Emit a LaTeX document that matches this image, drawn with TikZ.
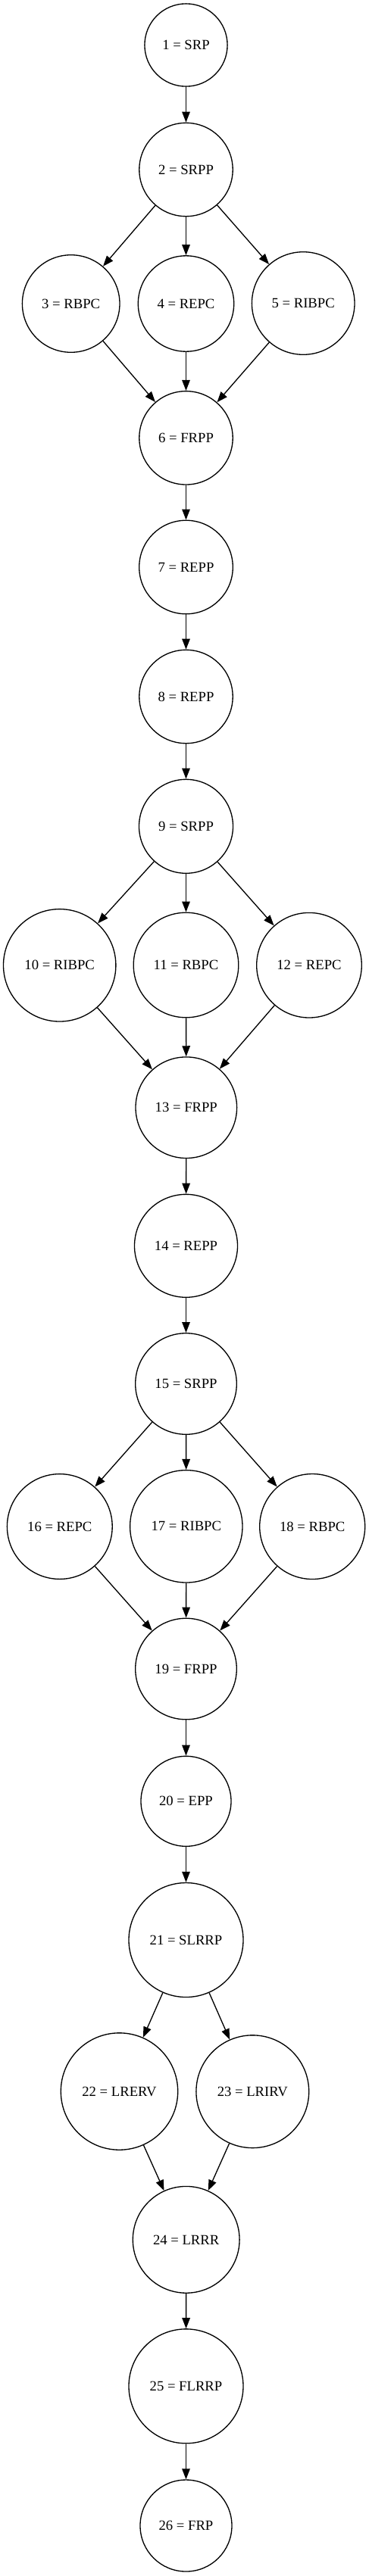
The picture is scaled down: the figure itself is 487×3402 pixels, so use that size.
\documentclass[tikz,border=0pt]{standalone}
\usepackage{fontspec}
\setmainfont{Liberation Serif}
\usetikzlibrary{arrows.meta}
\begin{document}
\begin{tikzpicture}[x=1pt,y=-1pt,
  st/.style={circle, draw, line width=1.33pt, inner sep=0pt,
    font=\fontsize{18.67pt}{22pt}\selectfont},
  edge/.style={line width=1.33pt, -{Triangle[length=14pt,width=10.5pt]}}]
\useasboundingbox (0,0) rectangle (487,3402);
\node[st, minimum size=109.2pt] (n1) at (245.5,59.5) {1 = SRP};
\node[st, minimum size=123.4pt] (n2) at (245.5,224) {2 = SRPP};
\node[st, minimum size=128.6pt] (n3) at (93.7,401) {3 = RBPC};
\node[st, minimum size=126.4pt] (n4) at (245.5,401) {4 = REPC};
\node[st, minimum size=135.6pt] (n5) at (400.2,400.5) {5 = RIBPC};
\node[st, minimum size=123.4pt] (n6) at (245.5,578.3) {6 = FRPP};
\node[st, minimum size=123.6pt] (n7) at (245.5,749) {7 = REPP};
\node[st, minimum size=123.4pt] (n8) at (245.5,920) {8 = REPP};
\node[st, minimum size=124pt] (n9) at (245.5,1091.3) {9 = SRPP};
\node[st, minimum size=148.4pt] (n10) at (78.7,1274.8) {10 = RIBPC};
\node[st, minimum size=138.6pt] (n11) at (245.5,1274.5) {11 = RBPC};
\node[st, minimum size=138.6pt] (n12) at (408,1274.7) {12 = REPC};
\node[st, minimum size=133.6pt] (n13) at (245.8,1462.7) {13 = FRPP};
\node[st, minimum size=136pt] (n14) at (245.5,1645.3) {14 = REPP};
\node[st, minimum size=133.6pt] (n15) at (245.5,1827.5) {15 = SRPP};
\node[st, minimum size=138.8pt] (n16) at (78.8,2016) {16 = REPC};
\node[st, minimum size=148.4pt] (n17) at (245.8,2015.8) {17 = RIBPC};
\node[st, minimum size=139pt] (n18) at (412.2,2016) {18 = RBPC};
\node[st, minimum size=133.6pt] (n19) at (245.5,2204) {19 = FRPP};
\node[st, minimum size=119pt] (n20) at (245.5,2378.8) {20 = EPP};
\node[st, minimum size=151pt] (n21) at (245.5,2562) {21 = SLRRP};
\node[st, minimum size=154.4pt] (n22) at (157.5,2762) {22 = LRERV};
\node[st, minimum size=148.8pt] (n23) at (333.3,2762.2) {23 = LRIRV};
\node[st, minimum size=140.8pt] (n24) at (245.7,2957.8) {24 = LRRR};
\node[st, minimum size=151pt] (n25) at (245.5,3151.3) {25 = FLRRP};
\node[st, minimum size=121pt] (n26) at (245.5,3335.5) {26 = FRP};
\draw[edge] (n1) -- (n2);
\draw[edge] (n2) -- (n3);
\draw[edge] (n2) -- (n4);
\draw[edge] (n2) -- (n5);
\draw[edge] (n3) -- (n6);
\draw[edge] (n4) -- (n6);
\draw[edge] (n5) -- (n6);
\draw[edge] (n6) -- (n7);
\draw[edge] (n7) -- (n8);
\draw[edge] (n8) -- (n9);
\draw[edge] (n9) -- (n10);
\draw[edge] (n9) -- (n11);
\draw[edge] (n9) -- (n12);
\draw[edge] (n10) -- (n13);
\draw[edge] (n11) -- (n13);
\draw[edge] (n12) -- (n13);
\draw[edge] (n13) -- (n14);
\draw[edge] (n14) -- (n15);
\draw[edge] (n15) -- (n16);
\draw[edge] (n15) -- (n17);
\draw[edge] (n15) -- (n18);
\draw[edge] (n16) -- (n19);
\draw[edge] (n17) -- (n19);
\draw[edge] (n18) -- (n19);
\draw[edge] (n19) -- (n20);
\draw[edge] (n20) -- (n21);
\draw[edge] (n21) -- (n22);
\draw[edge] (n21) -- (n23);
\draw[edge] (n22) -- (n24);
\draw[edge] (n23) -- (n24);
\draw[edge] (n24) -- (n25);
\draw[edge] (n25) -- (n26);
\end{tikzpicture}
\end{document}
